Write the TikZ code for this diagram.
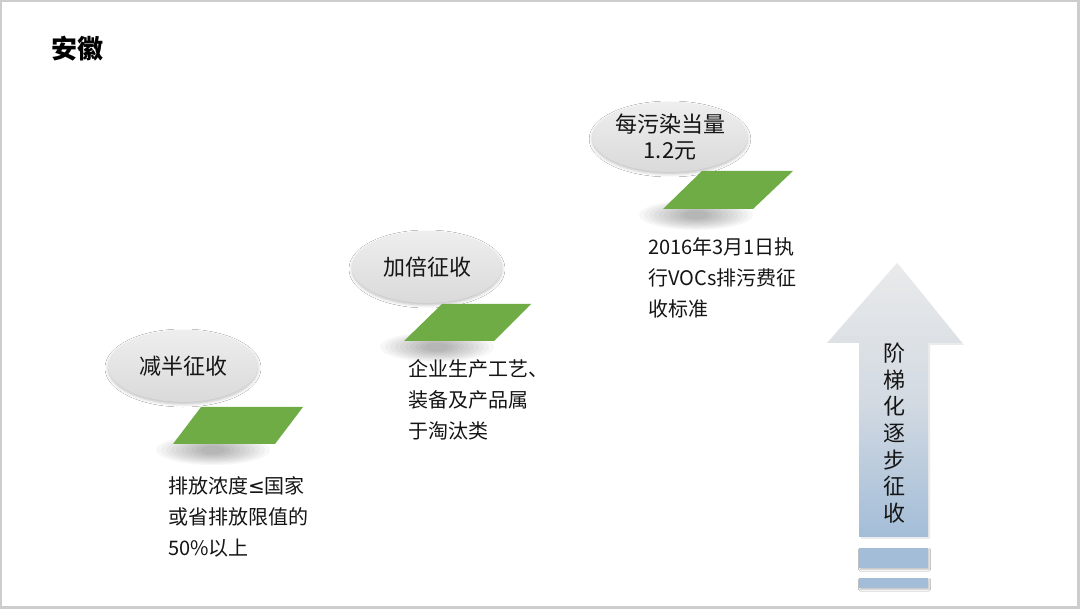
\documentclass[tikz,border=0pt]{standalone}
\usepackage{fontspec}
\setmainfont{Noto Sans CJK SC}
\newfontfamily\mathsym{DejaVu Sans}
\usetikzlibrary{shadows.blur,shapes.geometric}
\definecolor{framegray}{HTML}{CDCDCD}
\definecolor{leafgreen}{HTML}{6FAC46}
\definecolor{ellgray1}{HTML}{EEEEEE}
\definecolor{ellgray2}{HTML}{DADADA}
\definecolor{txt}{HTML}{151515}
\definecolor{arrtop}{HTML}{E9EAEB}
\definecolor{arrmid}{HTML}{D3DAE2}
\definecolor{arrbot}{HTML}{A3BDD8}
\tikzset{
  bubble/.style={ellipse, minimum width=150pt, minimum height=72pt, inner sep=0pt,
    top color=ellgray1, bottom color=ellgray2, draw=none,
    blur shadow={shadow xshift=0pt, shadow yshift=-2pt, shadow blur radius=3pt, shadow opacity=25},
    font=\fontsize{22}{26}\selectfont, text=txt, align=center},
  plate/.style={fill=leafgreen},
  softshade/.style={fill=black, opacity=0.033},
  bodytext/.style={anchor=west, align=left, inner sep=0pt, text=txt,
    font=\fontsize{20}{31}\selectfont},
  barstyle/.style={fill=arrbot, blur shadow={shadow xshift=1pt, shadow yshift=-1.5pt, shadow blur radius=1.5pt, shadow opacity=25}}
}
\newcommand\plateshade[1]{%
  \foreach \i in {0,...,9} {\fill[softshade] #1 ellipse ({57-5*\i} and {15-1.2*\i});}}
\begin{document}
\begin{tikzpicture}[x=1pt,y=-1pt]
\useasboundingbox (0,0) rectangle (1080,609);
\fill[white] (0,0) rectangle (1080,609);
\draw[framegray, line width=2.5pt] (0.8,1.2) rectangle (1078.5,607.5);

% title
\node[inner sep=0pt, font=\fontsize{26}{30}\selectfont\bfseries, text=black] (title) at (77,49) {安徽};

% step 1
\node[bubble] (e1) at (183,366) {减半征收};
\plateshade{(213,450)}
\path[plate] (201,407) coordinate (p1a) -- (303,407) coordinate (p1b) -- (275,444) coordinate (p1c) -- (173,444) coordinate (p1d) -- cycle;
\node[bodytext] (t1) at (168,517) {排放浓度{\mathsym ≤}国家\\或省排放限值的\\50\%以上};

% step 2
\node[bubble] (e2) at (427,267) {加倍征收};
\plateshade{(437,347)}
\path[plate] (442,304) coordinate (p2a) -- (531,304) coordinate (p2b) -- (494,341) coordinate (p2c) -- (404,341) coordinate (p2d) -- cycle;
\node[bodytext] (t2) at (408,400) {企业生产工艺、\\装备及产品属\\于淘汰类};

% step 3
\node[bubble, minimum width=146pt, minimum height=70pt] (e3) at (670,137) {每污染当量\\1.2元};
\plateshade{(696,215)}
\path[plate] (702,171) coordinate (p3a) -- (793,171) coordinate (p3b) -- (753,209) coordinate (p3c) -- (663,209) coordinate (p3d) -- cycle;
\node[bodytext] (t3) at (648,278) {2016年3月1日执\\行VOCs排污费征\\收标准};

% arrow
\fill[black, opacity=0.08] (899,265) -- (964,345) -- (930,345) -- (930,539) -- (861,539) -- cycle;
\shade[top color=arrtop, bottom color=arrbot, middle color=arrmid]
  (897,263) coordinate (atip) -- (962,343) -- (928,343) -- (928,537) -- (859,537) -- (859,343) -- (827,343) -- cycle;
\node[inner sep=0pt, align=center, text=txt, font=\fontsize{22}{26.7}\selectfont] (at) at (894,433)
  {阶\\梯\\化\\逐\\步\\征\\收};
\path[barstyle] (859,548) rectangle (928,568);
\path[barstyle] (859,578) rectangle (928,588);
\end{tikzpicture}
\end{document}
